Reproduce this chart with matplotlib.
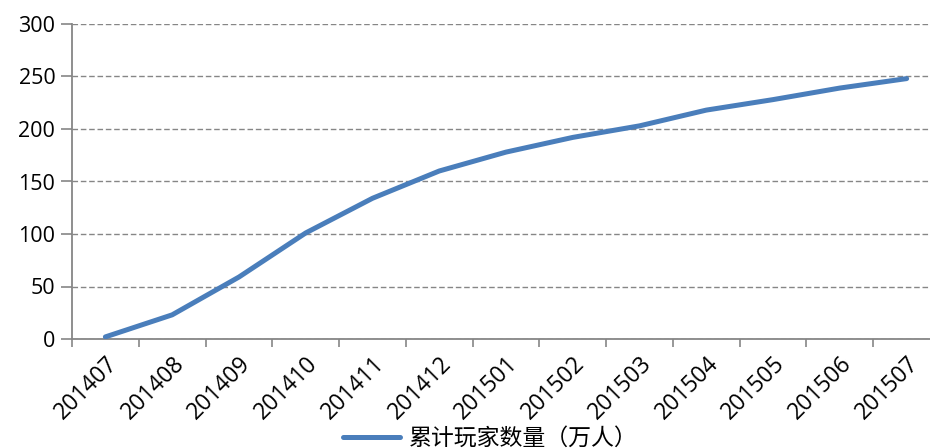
import matplotlib
matplotlib.use("Agg")
import matplotlib.pyplot as plt
from matplotlib.ticker import FixedLocator, NullFormatter

months = ["201407", "201408", "201409", "201410", "201411", "201412", "201501",
          "201502", "201503", "201504", "201505", "201506", "201507"]
players = [2, 23, 59, 101, 134, 160, 178, 192, 203, 218, 228, 239, 248]
series_name = "累计玩家数量（万人）"

fig = plt.figure(figsize=(9.3, 4.48), dpi=100)
ax = fig.add_axes([72 / 930, 109 / 448, 1 - 72 / 930, (339 - 24) / 448])

x = list(range(len(months)))
ax.plot(x, players, color="#4A7EBB", lw=3.6, solid_capstyle="round",
        solid_joinstyle="round", label=series_name, zorder=3)

ax.set_ylim(0, 300)
ax.set_yticks(range(0, 301, 50))
ax.set_xlim(-0.5, 12.35)

ax.set_xticks(x)
ax.set_xticklabels(months, rotation=45, ha="right", rotation_mode="anchor",
                   fontsize=16.5, family="Open Sans")
ax.xaxis.set_minor_locator(FixedLocator([i - 0.5 for i in range(len(months) + 1)]))
ax.xaxis.set_minor_formatter(NullFormatter())
ax.tick_params(axis="x", which="major", length=0, pad=9)
ax.tick_params(axis="x", which="minor", length=6, color="#868686", width=1.2)
ax.tick_params(axis="y", length=8, color="#868686", width=1.2, labelsize=15.5, pad=4)
for lbl in ax.get_yticklabels():
    lbl.set_family("Open Sans")

ax.grid(axis="y", color="#868686", linestyle=(0, (4, 2)), lw=1.0)
for s in ("top", "right"):
    ax.spines[s].set_visible(False)
for s in ("left", "bottom"):
    ax.spines[s].set_color("#868686")
    ax.spines[s].set_linewidth(1.3)

fig.legend(loc="lower center", bbox_to_anchor=(0.527, -0.05), frameon=False,
           prop={"family": ["Noto Sans CJK SC", "DejaVu Sans"], "size": 16.5},
           handlelength=2.5, handletextpad=0.35)

fig.savefig("out.png", dpi=100)
